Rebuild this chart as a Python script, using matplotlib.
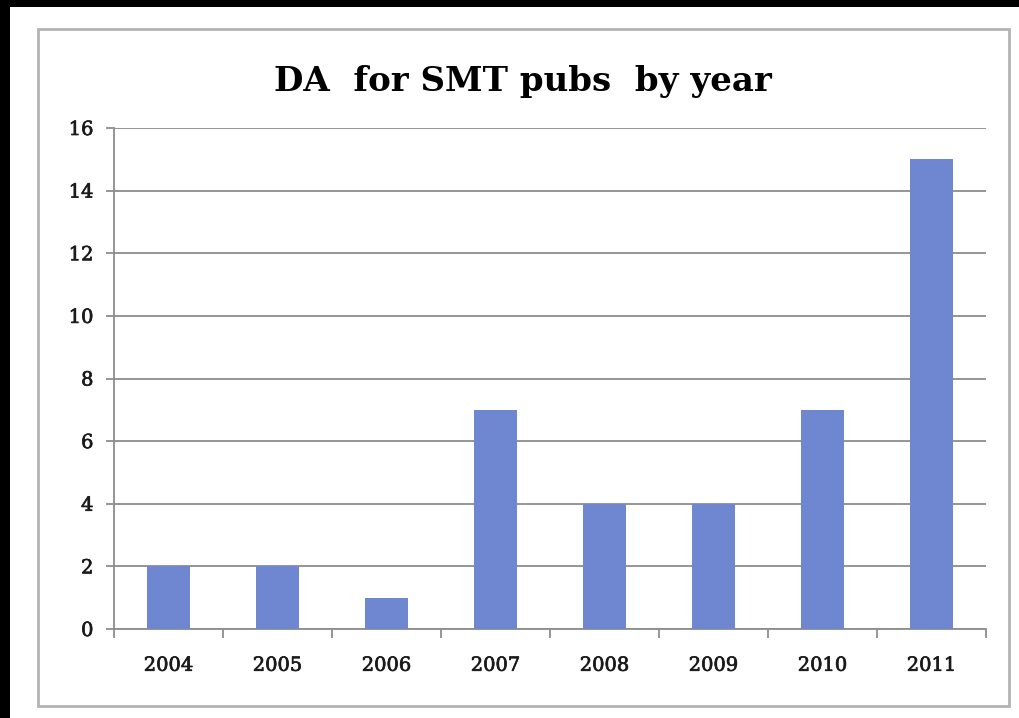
import matplotlib.pyplot as plt
from matplotlib.patches import Rectangle
import matplotlib.patheffects as pe
import numpy as np

years = ["2004", "2005", "2006", "2007", "2008", "2009", "2010", "2011"]
counts = [2, 2, 1, 7, 4, 4, 7, 15]
y_ticks = [0, 2, 4, 6, 8, 10, 12, 14, 16]
title = "DA  for SMT pubs  by year"

W, H = 1020, 718
fig = plt.figure(figsize=(W / 100, H / 100), dpi=100, facecolor="black")

# white page and the grey chart frame
fig.patches.append(Rectangle((10 / W, 0), 1 - 10 / W, 1 - 7 / H,
                             transform=fig.transFigure, facecolor="white",
                             edgecolor="none", zorder=-2))
fig.patches.append(Rectangle((38 / W, 1 - 706 / H), (1009 - 38) / W, (706 - 29) / H,
                             transform=fig.transFigure, facecolor="none",
                             edgecolor="#b3b3b3", linewidth=2, zorder=-1))

ax = fig.add_axes([114 / W, 1 - 629 / H, (986 - 114) / W, (629 - 128) / H])
ax.set_zorder(2)
ax.set_facecolor("white")

x = np.arange(len(years))
ax.bar(x, counts, width=0.4, color="#6e87d0", zorder=3)

ax.set_xlim(-0.5, len(years) - 0.5)
ax.set_ylim(0, 16)
ax.set_yticks(y_ticks)
ax.yaxis.grid(True, color="#8c8c8c", linewidth=1.3, zorder=0)
ax.set_axisbelow(True)

# slightly heavier tick labels
thick = [pe.withStroke(linewidth=0.5, foreground="#1a1a1a")]
tick_font = dict(family="DejaVu Serif", size=14, color="#1a1a1a")
ax.set_yticklabels([str(v) for v in y_ticks], **tick_font)
ax.set_xticks(x)
ax.set_xticklabels(years, **tick_font)
for lbl in ax.get_xticklabels() + ax.get_yticklabels():
    lbl.set_path_effects(thick)
ax.set_xticks(np.arange(len(years) + 1) - 0.5, minor=True)
ax.tick_params(axis="x", which="major", length=0, pad=20)
ax.tick_params(axis="x", which="minor", length=6.5, width=1.3, color="#8c8c8c", direction="out")
ax.tick_params(axis="y", length=5.8, width=1.3, color="#8c8c8c", pad=9)

for side in ("top", "right"):
    ax.spines[side].set_visible(False)
for side in ("left", "bottom"):
    ax.spines[side].set_color("#8c8c8c")
    ax.spines[side].set_linewidth(1.3)

fig.text(523 / W, 1 - 91 / H, title, ha="center", va="baseline",
         family="DejaVu Serif", weight="bold", size=24.5)

fig.savefig("out.png", dpi=100, facecolor="black")
